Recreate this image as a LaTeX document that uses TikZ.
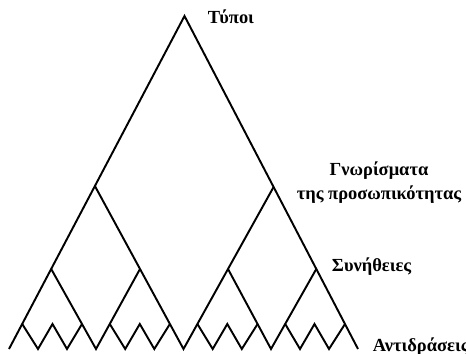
\documentclass[tikz,border=0pt]{standalone}
\usepackage{fontspec}
\setmainfont{Liberation Serif}
\usetikzlibrary{positioning}

\tikzset{lbl/.style={font=\fontsize{10.5pt}{13.7pt}\selectfont\bfseries, inner sep=0pt}}

\begin{document}
\begin{tikzpicture}[x=0.02cm, y=-0.02cm, line width=1.1pt]
    \useasboundingbox (0,0) rectangle (466,354);
    % peaks and base points
    \coordinate (top) at (184.5,16);
    \coordinate (bl) at (9,349);
    \coordinate (bm) at (183.5,349);
    \coordinate (br) at (358,349);
    \coordinate (p2l) at (94.9,186);
    \coordinate (p2r) at (273.6,187);
    \coordinate (v3l) at (96,349);
    \coordinate (v3r) at (271,349);
    \coordinate (p3a) at (51.2,269);
    \coordinate (p3b) at (140,269);
    \coordinate (p3c) at (228,269);
    \coordinate (p3d) at (316.3,269);
    \draw (bl) -- (top) -- (br);
    \draw (p2l) -- (bm) -- (p2r);
    \draw (p3a) -- (v3l) -- (p3b);
    \draw (p3c) -- (v3r) -- (p3d);
    % bottom zigzags
    \draw (22.2,324) -- (38,349) -- (52.5,324) -- (67,349) -- (82,324);
    \draw (109.8,324) -- (125.2,349) -- (139.8,324) -- (154.3,349) -- (169.9,324);
    \draw (197.4,324) -- (212.7,349) -- (227.3,324) -- (241.8,349) -- (257.6,324);
    \draw (285.2,324) -- (300,349) -- (314.5,324) -- (329,349) -- (345,324);
    % labels
    \node[lbl, anchor=base west] (tipoi) at (207,24) {Τύποι};
    \node[lbl, align=center] (gnor) at (379,183) {Γνωρίσματα\\της προσωπικότητας};
    \node[lbl, anchor=base west] (syn) at (331,272) {Συνήθειες};
    \node[lbl, anchor=base west] (antid) at (372,351) {Αντιδράσεις};
\end{tikzpicture}
\end{document}
